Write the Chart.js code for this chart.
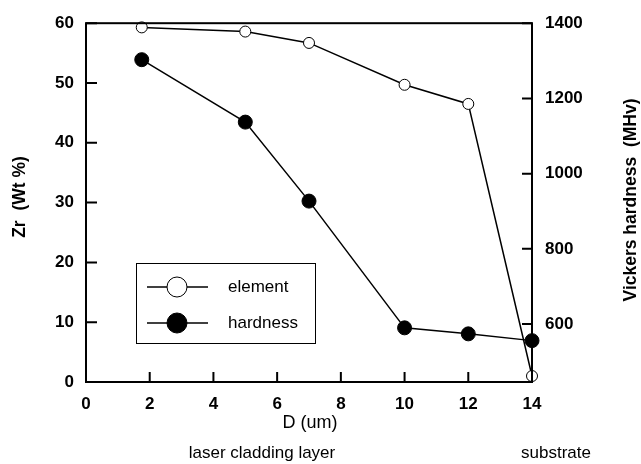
<!DOCTYPE html>
<html>
<head>
  <meta charset="utf-8">
  <title>Zr content and hardness vs depth</title>
  <style>
    body { margin: 0; background: #fff; }
    .wrap { width: 641px; height: 464px; position: relative; }
  </style>
</head>
<body>
  <div class="wrap"><canvas id="chart" width="641" height="464"></canvas></div>

  <script src="https://cdn.jsdelivr.net/npm/chart.js"></script>
  <script>
    // data
    const depth = [1.75, 5, 7, 10, 12, 14];
    const zrWt = [59.3, 58.6, 56.7, 49.7, 46.5, 1.0];
    const hardness = [1303, 1137, 927, 590, 574, 556];
    const xTicks = [0, 2, 4, 6, 8, 10, 12, 14];
    const leftTicks = [0, 10, 20, 30, 40, 50, 60];
    const rightTicks = [600, 800, 1000, 1200, 1400];

    const FONT = 'Liberation Sans, Arial, sans-serif';

    function pts(xs, ys) {
      return xs.map((x, i) => ({ x: x, y: ys[i] }));
    }

    // inward ticks, frame, legend and extra captions
    const decor = {
      id: 'decor',
      afterDraw(chart) {
        const ctx = chart.ctx;
        const a = chart.chartArea;
        const sx = chart.scales.x, sl = chart.scales.y, sr = chart.scales.y1;
        ctx.save();
        ctx.strokeStyle = '#000';
        ctx.lineWidth = 2;
        ctx.strokeRect(a.left, a.top, a.right - a.left, a.bottom - a.top);

        ctx.beginPath();
        xTicks.forEach(v => {
          const px = sx.getPixelForValue(v);
          ctx.moveTo(px, a.bottom); ctx.lineTo(px, a.bottom - 10);
        });
        leftTicks.forEach(v => {
          const py = sl.getPixelForValue(v);
          ctx.moveTo(a.left, py); ctx.lineTo(a.left + 11, py);
        });
        rightTicks.forEach(v => {
          const py = sr.getPixelForValue(v);
          ctx.moveTo(a.right, py); ctx.lineTo(a.right - 10, py);
        });
        ctx.stroke();

        // legend
        const lx = 136, ly = 263, lw = 179, lh = 80;
        ctx.lineWidth = 1;
        ctx.fillStyle = '#fff';
        ctx.fillRect(lx, ly, lw, lh);
        ctx.strokeRect(lx + 0.5, ly + 0.5, lw, lh);
        const rows = [
          { ds: chart.data.datasets[0], y: 287, fill: '#fff' },
          { ds: chart.data.datasets[1], y: 323, fill: '#000' }
        ];
        rows.forEach(r => {
          ctx.lineWidth = 1.5;
          ctx.beginPath();
          ctx.moveTo(147, r.y); ctx.lineTo(208, r.y);
          ctx.stroke();
          ctx.beginPath();
          ctx.arc(177, r.y, 10, 0, Math.PI * 2);
          ctx.fillStyle = r.fill;
          ctx.fill();
          ctx.lineWidth = 1;
          ctx.stroke();
          ctx.fillStyle = '#000';
          ctx.font = '17px ' + FONT;
          ctx.textAlign = 'left';
          ctx.textBaseline = 'middle';
          ctx.fillText(r.ds.label, 228, r.y);
        });

        // captions below the x axis
        ctx.font = '18px ' + FONT;
        ctx.textAlign = 'center';
        ctx.fillText('D (um)', 310, 423);
        ctx.font = '17px ' + FONT;
        ctx.fillText('laser cladding layer', 262, 453);
        ctx.fillText('substrate', 556, 453);

        // rotated axis titles
        ctx.font = 'bold 17.5px ' + FONT;
        ctx.save();
        ctx.translate(20, 197);
        ctx.rotate(-Math.PI / 2);
        ctx.fillText('Zr  (Wt %)', 0, 0);
        ctx.restore();
        ctx.save();
        ctx.translate(631, 200);
        ctx.rotate(-Math.PI / 2);
        ctx.fillText('Vickers hardness  (MHv)', 0, 0);
        ctx.restore();
        ctx.restore();
      }
    };

    const tickFont = { family: FONT, size: 17, weight: 'bold' };

    new Chart(document.getElementById('chart'), {
      type: 'scatter',
      data: {
        datasets: [
          {
            label: 'element',
            data: pts(depth, zrWt),
            yAxisID: 'y',
            showLine: true,
            clip: false,
            borderColor: '#000',
            borderWidth: 1.5,
            pointRadius: 5.5,
            pointBackgroundColor: '#fff',
            pointBorderColor: '#000',
            pointBorderWidth: 1
          },
          {
            label: 'hardness',
            data: pts(depth, hardness),
            yAxisID: 'y1',
            showLine: true,
            clip: false,
            borderColor: '#000',
            borderWidth: 1.5,
            pointRadius: 7,
            pointBackgroundColor: '#000',
            pointBorderColor: '#000',
            pointBorderWidth: 1
          }
        ]
      },
      options: {
        responsive: false,
        animation: false,
        layout: { padding: { top: 17 } },
        plugins: { legend: { display: false }, tooltip: { enabled: false } },
        scales: {
          x: {
            type: 'linear',
            min: 0, max: 14,
            afterBuildTicks: s => { s.ticks = xTicks.map(v => ({ value: v })); },
            afterFit: s => { s.height = 82; },
            grid: { display: false, drawTicks: false },
            border: { display: false },
            ticks: { color: '#000', font: tickFont, padding: 12, callback: v => String(v) }
          },
          y: {
            position: 'left',
            min: 0, max: 60,
            afterBuildTicks: s => { s.ticks = leftTicks.map(v => ({ value: v })); },
            afterFit: s => { s.width = 86; },
            grid: { display: false, drawTicks: false },
            border: { display: false },
            ticks: { color: '#000', font: tickFont, padding: 12, callback: v => String(v) }
          },
          y1: {
            position: 'right',
            min: 446, max: 1400,
            afterBuildTicks: s => { s.ticks = rightTicks.map(v => ({ value: v })); },
            afterFit: s => { s.width = 109; },
            grid: { display: false, drawTicks: false },
            border: { display: false },
            ticks: { color: '#000', font: tickFont, padding: 13, callback: v => String(v) }
          }
        }
      },
      plugins: [decor]
    });
  </script>
</body>
</html>
